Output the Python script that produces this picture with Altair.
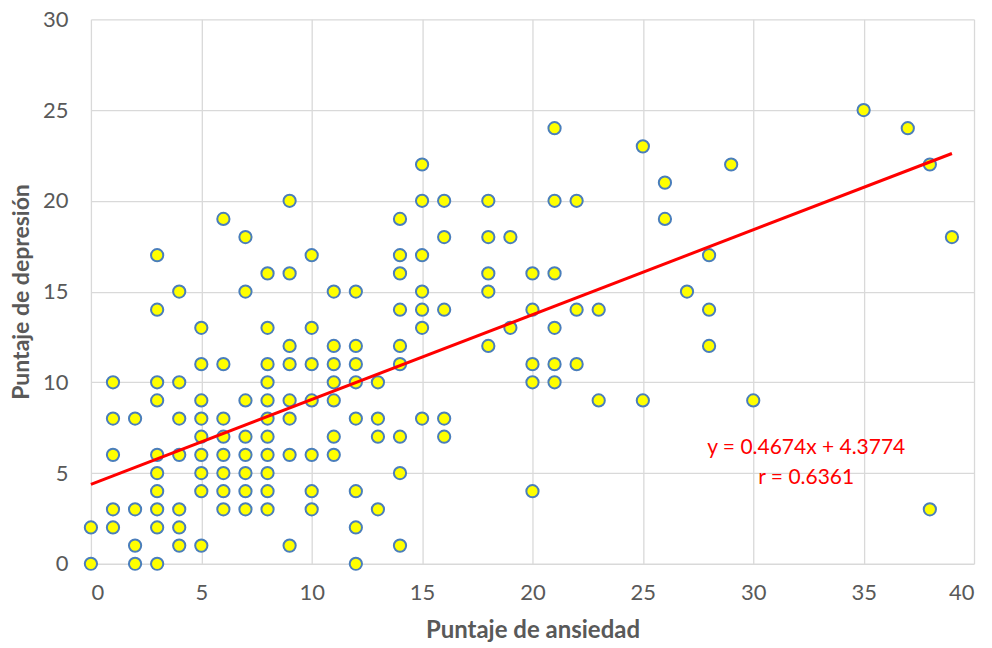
import altair as alt
import pandas as pd

# anxiety score (x) -> list of depression scores (y)
columns = {
    0: [2, 0],
    1: [10, 8, 6, 3, 2],
    2: [8, 3, 1, 0],
    3: [17, 14, 10, 9, 6, 5, 4, 3, 2, 0],
    4: [15, 10, 8, 6, 3, 2, 1],
    5: [13, 11, 9, 8, 7, 6, 5, 4, 1],
    6: [19, 11, 8, 7, 6, 5, 4, 3],
    7: [18, 15, 9, 7, 6, 5, 4, 3],
    8: [16, 13, 11, 10, 9, 8, 7, 6, 5, 4, 3],
    9: [20, 16, 12, 11, 9, 8, 6, 1],
    10: [17, 13, 11, 9, 6, 4, 3],
    11: [15, 12, 11, 10, 9, 7, 6],
    12: [15, 12, 11, 10, 8, 4, 2, 0],
    13: [10, 8, 7, 3],
    14: [19, 17, 16, 14, 12, 11, 7, 5, 1],
    15: [22, 20, 17, 15, 14, 13, 8],
    16: [20, 18, 14, 8, 7],
    18: [20, 18, 16, 15, 12],
    19: [18, 13],
    20: [16, 14, 11, 10, 4],
    21: [24, 20, 16, 13, 11, 10],
    22: [20, 14, 11],
    23: [14, 9],
    25: [23, 9],
    26: [21, 19],
    27: [15],
    28: [17, 14, 12],
    29: [22],
    30: [9],
    35: [25],
    37: [24],
    38: [22, 3],
    39: [18],
}

slope = 0.4674
intercept = 4.3774
trend_x = [0, 39]
label_lines = ["y = 0.4674x + 4.3774", "r = 0.6361"]
label_x = [32.4, 32.4]
label_y = [6.4, 4.75]

xs, ys = [], []
for k, vals in columns.items():
    for v in vals:
        xs.append(k)
        ys.append(v)
pts = pd.DataFrame({"x": xs, "y": ys})
trend = pd.DataFrame({"x": trend_x, "y": [slope * t + intercept for t in trend_x]})
labels = pd.DataFrame({"x": label_x, "y": label_y, "t": label_lines})

FONT = "Lato"
GRAY = "#595959"

xscale = alt.Scale(domain=[0, 40], nice=False, zero=False)
yscale = alt.Scale(domain=[0, 30], nice=False, zero=False)

xaxis = alt.Axis(values=list(range(0, 41, 5)), title="Puntaje de ansiedad",
                 grid=True, gridColor="#d9d9d9", gridWidth=1.3, ticks=False,
                 domain=False, labelFont=FONT, labelFontSize=22, labelColor=GRAY,
                 labelPadding=19, titleFont=FONT, titleFontSize=24, titleFontWeight="bold",
                 titleColor=GRAY, titlePadding=15)
yaxis = alt.Axis(values=list(range(0, 31, 5)), title="Puntaje de depresión",
                 grid=True, gridColor="#d9d9d9", gridWidth=1.3, ticks=False,
                 domain=False, labelFont=FONT, labelFontSize=22, labelColor=GRAY,
                 labelPadding=23, titleFont=FONT, titleFontSize=23, titleFontWeight="bold",
                 titleColor=GRAY, titlePadding=9)

points = alt.Chart(pts).mark_point(
    shape="circle", filled=True, fill="#ffff00", stroke="#4a7ebb",
    strokeWidth=2, size=150, opacity=1
).encode(
    x=alt.X("x:Q", scale=xscale, axis=xaxis),
    y=alt.Y("y:Q", scale=yscale, axis=yaxis),
)

line = alt.Chart(trend).mark_line(color="#ff0000", strokeWidth=3).encode(
    x=alt.X("x:Q", scale=xscale),
    y=alt.Y("y:Q", scale=yscale),
)

text = alt.Chart(labels).mark_text(
    color="#ff0000", font=FONT, fontSize=21, align="center", baseline="middle"
).encode(
    x=alt.X("x:Q", scale=xscale),
    y=alt.Y("y:Q", scale=yscale),
    text="t:N",
)

chart = alt.layer(points, line, text).properties(
    width=884, height=545,
    autosize=alt.AutoSizeParams(type="none"),
    padding={"left": 83, "top": 11, "right": 10, "bottom": 80},
).configure_view(stroke=None)

chart.save("out.html", embed_options={"renderer": "svg", "actions": False})
